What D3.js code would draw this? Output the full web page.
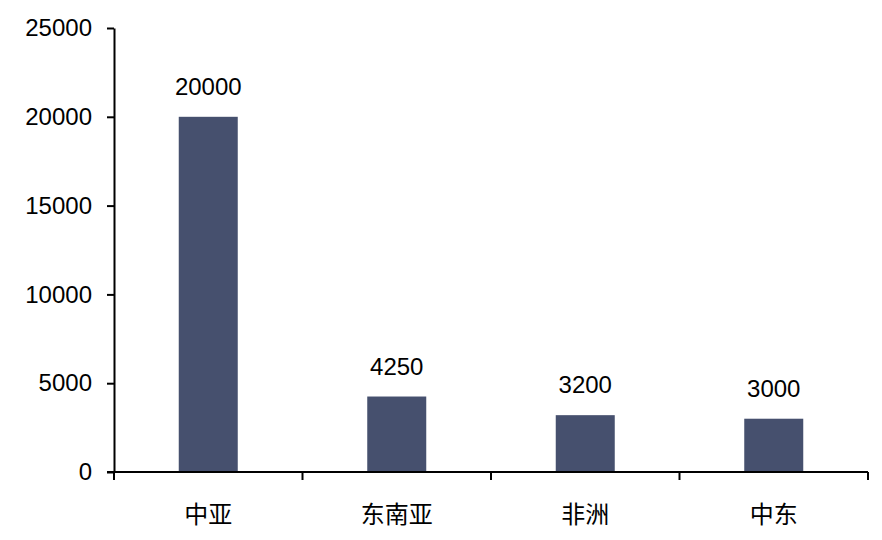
<!DOCTYPE html>
<html>
<head>
<meta charset="utf-8">
<script src="https://cdn.jsdelivr.net/npm/d3@7"></script>
<style>
  body { margin: 0; background: #fff; }
  text { font-family: "Liberation Sans", Arial, "Noto Sans CJK SC", sans-serif; }
  .cat text { font-family: "Noto Sans CJK SC", sans-serif; }
</style>
</head>
<body>
<div id="chart"></div>
<script>

// chart data

var regions = ["中亚", "东南亚", "非洲", "中东"];
var amounts = [20000, 4250, 3200, 3000];
var yTicks = [0, 5000, 10000, 15000, 20000, 25000];

// size and margins

var width = 882,
    height = 540,
    marginTop = 28,
    marginRight = 14,
    marginLeft = 114,
    marginBottom = 68;

var svg = d3.select("#chart").append("svg")
  .attr("width", width)
  .attr("height", height);

// scales

var x = d3.scaleBand()
  .domain(regions)
  .range([marginLeft, width - marginRight])
  .padding(0);

var y = d3.scaleLinear()
  .domain([0, 25000])
  .range([height - marginBottom, marginTop]);

var barWidth = x.bandwidth() * 0.313;

// bars

svg.selectAll(".bar")
  .data(amounts)
  .enter()
    .append("rect")
      .attr("class", "bar")
      .attr("x", function(d, i) { return x(regions[i]) + x.bandwidth() / 2 - barWidth / 2; })
      .attr("y", function(d) { return y(d); })
      .attr("width", barWidth)
      .attr("height", function(d) { return y(0) - y(d); })
      .attr("fill", "#46506e");

// value labels

svg.selectAll(".val")
  .data(amounts)
  .enter()
    .append("text")
      .attr("class", "val")
      .attr("x", function(d, i) { return x(regions[i]) + x.bandwidth() / 2; })
      .attr("y", function(d) { return y(d) - 22; })
      .attr("text-anchor", "middle")
      .attr("font-size", "24px")
      .attr("fill", "#000")
      .text(function(d) { return d; });

// y axis

var yAxis = svg.append("g")
  .attr("transform", "translate(" + marginLeft + ",0)")
  .call(d3.axisLeft(y).tickValues(yTicks).tickFormat(d3.format("d")).tickSize(7).tickPadding(15).tickSizeOuter(0));

yAxis.select(".domain").attr("stroke", "#000").attr("stroke-width", 2);
yAxis.selectAll(".tick line").attr("stroke", "#000").attr("stroke-width", 2);
yAxis.selectAll(".tick text")
  .attr("font-size", "24px")
  .attr("fill", "#000")
  .style("font-family", "'Liberation Sans', Arial, sans-serif");

// x axis: ticks sit on category boundaries

var xAxis = svg.append("g")
  .attr("transform", "translate(0," + y(0) + ")");

xAxis.append("line")
  .attr("x1", marginLeft - 7)
  .attr("x2", width - marginRight)
  .attr("stroke", "#000")
  .attr("stroke-width", 2);

var bounds = regions.map(function(d) { return x(d); }).concat([x(regions[regions.length - 1]) + x.bandwidth()]);

xAxis.selectAll(".xtick")
  .data(bounds)
  .enter()
    .append("line")
      .attr("x1", function(d) { return d; })
      .attr("x2", function(d) { return d; })
      .attr("y1", 0)
      .attr("y2", 8)
      .attr("stroke", "#000")
      .attr("stroke-width", 2);

xAxis.selectAll(".cat")
  .data(regions)
  .enter()
    .append("g")
      .attr("class", "cat")
      .append("text")
        .attr("x", function(d) { return x(d) + x.bandwidth() / 2; })
        .attr("y", 51)
        .attr("text-anchor", "middle")
        .attr("font-size", "24px")
        .attr("fill", "#000")
        .text(function(d) { return d; });

</script>
</body>
</html>
